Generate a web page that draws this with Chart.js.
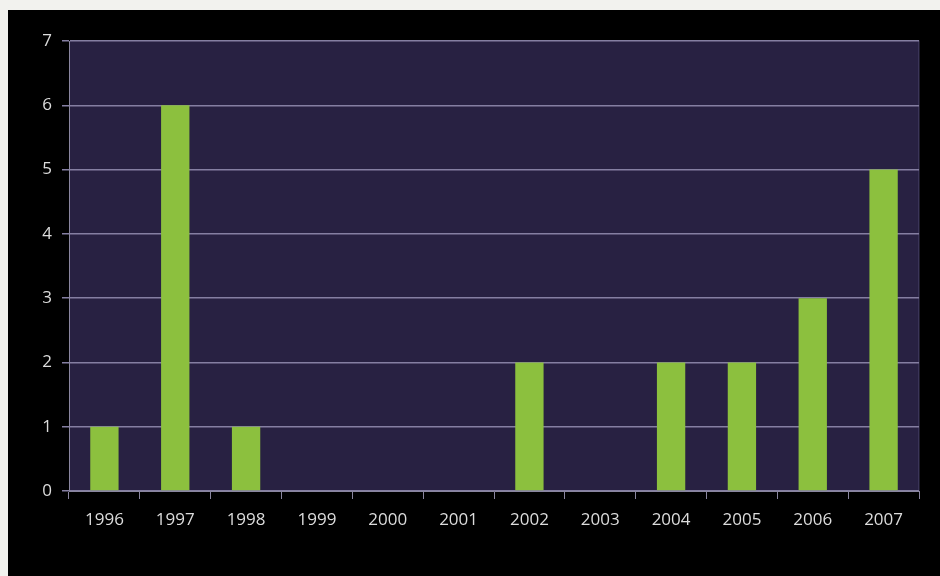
<!DOCTYPE html>
<html>
<head>
<meta charset="utf-8">
<script src="https://cdn.jsdelivr.net/npm/chart.js@4"></script>
<style>
  html, body { margin: 0; padding: 0; background: #f2f2ee; }
  #wrap { position: absolute; left: 8px; top: 10px; width: 932px; height: 566px; background: #000; }
</style>
</head>
<body>
<div id="wrap"><canvas id="chart" width="932" height="566"></canvas></div>
<script>
const years = ['1996', '1997', '1998', '1999', '2000', '2001', '2002', '2003', '2004', '2005', '2006', '2007'];
const counts = [1, 6, 1, 0, 0, 0, 2, 0, 2, 2, 3, 5];

// dark plot area behind the bars
const plotBg = {
  id: 'plotBg',
  beforeDraw(chart) {
    const { ctx, chartArea: a } = chart;
    ctx.save();
    ctx.fillStyle = '#282142';
    ctx.fillRect(a.left, a.top, a.right - a.left, a.bottom - a.top);
    ctx.strokeStyle = '#3a3458';
    ctx.strokeRect(a.right - 0.5, a.top, 0.5, a.bottom - a.top);
    ctx.restore();
  }
};

new Chart(document.getElementById('chart'), {
  type: 'bar',
  data: {
    labels: years,
    datasets: [{
      data: counts,
      backgroundColor: '#8cc03e',
      borderWidth: 0,
      barPercentage: 0.4,
      categoryPercentage: 1
    }]
  },
  plugins: [plotBg],
  options: {
    responsive: false,
    animation: false,
    layout: { padding: { top: 31, right: 21, left: 0, bottom: 0 } },
    plugins: { legend: { display: false }, tooltip: { enabled: false } },
    scales: {
      x: {
        grid: { drawOnChartArea: false, drawTicks: true, tickLength: 8, color: '#8a86a0', offset: true },
        border: { color: '#8a86a0' },
        ticks: { color: '#dcdcdc', font: { family: 'Open Sans', size: 17 }, padding: 11 },
        afterFit(s) { s.height = 85; }
      },
      y: {
        min: 0,
        max: 7,
        ticks: { stepSize: 1, color: '#dcdcdc', font: { family: 'Open Sans', size: 17 }, padding: 10 },
        grid: { color: '#857fa2', lineWidth: 1.5, tickLength: 7 },
        border: { color: '#8a86a0' },
        afterFit(s) { s.width = 61; }
      }
    }
  }
});
</script>
</body>
</html>
